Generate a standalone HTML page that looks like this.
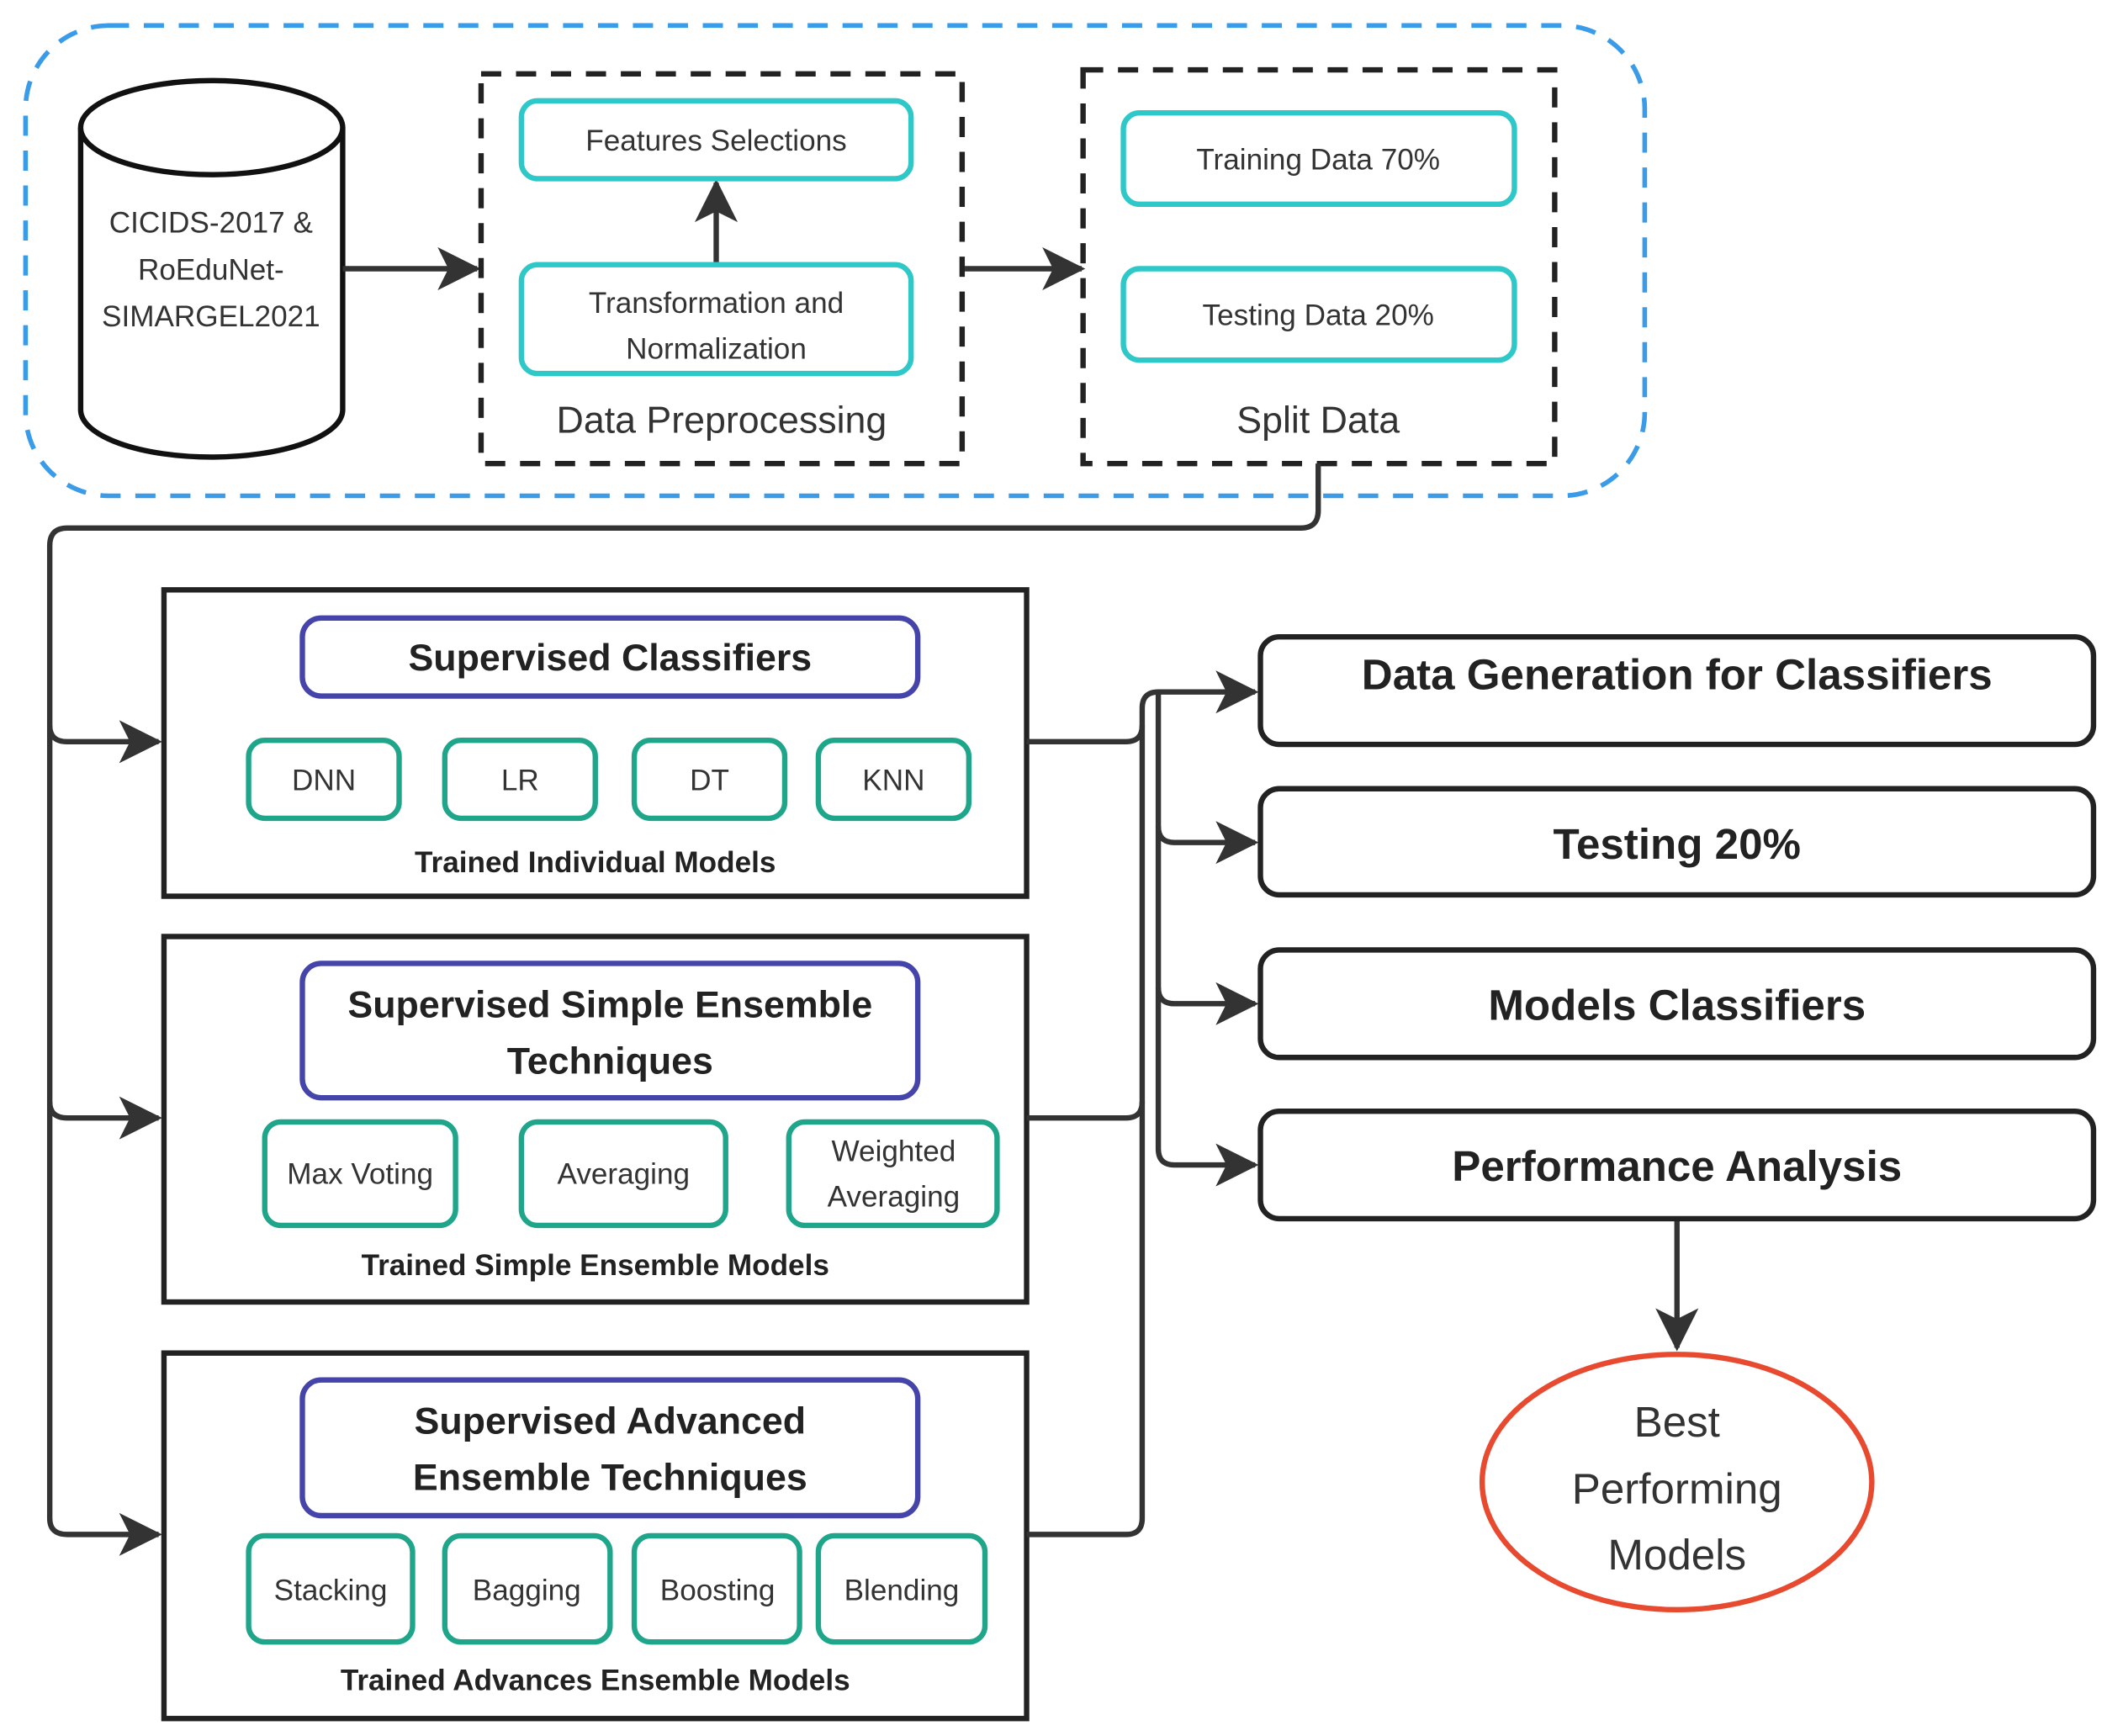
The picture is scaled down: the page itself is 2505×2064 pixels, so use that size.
<!DOCTYPE html>
<html><head><meta charset="utf-8"><style>html,body{margin:0;padding:0;background:#fff}svg{display:block}</style></head>
<body>
<svg width="2505" height="2064" viewBox="0 0 1568 1292" xmlns="http://www.w3.org/2000/svg" font-family="'Liberation Sans', 'DejaVu Sans', sans-serif">
<defs>
<marker id="a" viewBox="0 0 10 10" refX="9" refY="5" markerWidth="9" markerHeight="9" markerUnits="userSpaceOnUse" orient="auto">
</marker>
<marker id="ar" viewBox="0 0 12 12" refX="11" refY="6" markerWidth="32" markerHeight="32" markerUnits="userSpaceOnUse" orient="auto"><path d="M0,0 L12,6 L0,12 L3,6 Z" fill="#333"/></marker>
</defs>
<rect x="19" y="19" width="1205" height="350" rx="62" fill="none" stroke="#3a9be8" stroke-width="3.5" stroke-dasharray="15,11"/>
<!-- cylinder -->
<path d="M60,95 L60,305 A97,35 0 0 0 255,305 L255,95" fill="#fff" stroke="#111" stroke-width="4"/>
<ellipse cx="157.5" cy="95" rx="97.5" ry="35" fill="#fff" stroke="#111" stroke-width="4"/>
<g font-size="22" fill="#333" text-anchor="middle">
<text x="157" y="173">CICIDS-2017 &amp;</text><text x="157" y="208">RoEduNet-</text><text x="157" y="243">SIMARGEL2021</text>
</g>
<g stroke="#333" stroke-width="4" fill="none">
<line x1="255" y1="200" x2="355" y2="200" marker-end="url(#ar)"/>
<line x1="533" y1="197" x2="533" y2="136" marker-end="url(#ar)"/>
<line x1="718" y1="200" x2="805" y2="200" marker-end="url(#ar)"/>
</g>
<rect x="358" y="55" width="358" height="290" fill="none" stroke="#222" stroke-width="4" stroke-dasharray="15,11"/>
<rect x="806" y="52" width="351" height="293" fill="none" stroke="#222" stroke-width="4" stroke-dasharray="15,11"/>
<g fill="none" stroke="#2ec8c8" stroke-width="4">
<rect x="388" y="75" width="290" height="58" rx="12"/>
<rect x="388" y="197" width="290" height="81" rx="12"/>
<rect x="836" y="84" width="291" height="68" rx="12"/>
<rect x="836" y="200" width="291" height="68" rx="12"/>
</g>
<g font-size="22" fill="#333" text-anchor="middle">
<text x="533" y="112">Features Selections</text>
<text x="533" y="233">Transformation and</text><text x="533" y="267">Normalization</text>
<text x="981" y="126">Training Data 70%</text>
<text x="981" y="242">Testing Data 20%</text>
<text x="537" y="322" font-size="28">Data Preprocessing</text>
<text x="981" y="322" font-size="28">Split Data</text>
</g>
<!-- left connector -->
<g stroke="#333" stroke-width="4" fill="none">
<path d="M981,345 L981,380 Q981,393 968,393 L50,393 Q37,393 37,406 L37,1130 Q37,1142 50,1142 L118,1142" marker-end="url(#ar)"/>
<path d="M37,540 Q37,552 50,552 L118,552" marker-end="url(#ar)"/>
<path d="M37,820 Q37,832 50,832 L118,832" marker-end="url(#ar)"/>
</g>
<!-- boxes -->
<g fill="none" stroke="#222" stroke-width="4">
<rect x="122" y="439" width="642" height="228"/>
<rect x="122" y="697" width="642" height="272"/>
<rect x="122" y="1007" width="642" height="272"/>
</g>
<g fill="none" stroke="#4444aa" stroke-width="4">
<rect x="225" y="460" width="458" height="58" rx="14"/>
<rect x="225" y="717" width="458" height="100" rx="14"/>
<rect x="225" y="1027" width="458" height="101" rx="14"/>
</g>
<g fill="none" stroke="#1fa68a" stroke-width="4">
<rect x="185" y="551" width="112" height="58" rx="12"/>
<rect x="331" y="551" width="112" height="58" rx="12"/>
<rect x="472" y="551" width="112" height="58" rx="12"/>
<rect x="609" y="551" width="112" height="58" rx="12"/>
<rect x="197" y="835" width="142" height="77" rx="12"/>
<rect x="388" y="835" width="152" height="77" rx="12"/>
<rect x="587" y="835" width="155" height="77" rx="12"/>
<rect x="185" y="1143" width="122" height="79" rx="12"/>
<rect x="331" y="1143" width="123" height="79" rx="12"/>
<rect x="472" y="1143" width="123" height="79" rx="12"/>
<rect x="609" y="1143" width="124" height="79" rx="12"/>
</g>
<g font-size="28" font-weight="bold" fill="#222" text-anchor="middle">
<text x="454" y="499">Supervised Classifiers</text>
<text x="454" y="757">Supervised Simple Ensemble</text><text x="454" y="799">Techniques</text>
<text x="454" y="1067">Supervised Advanced</text><text x="454" y="1109">Ensemble Techniques</text>
</g>
<g font-size="22" font-weight="bold" fill="#222" text-anchor="middle">
<text x="443" y="649">Trained Individual Models</text>
<text x="443" y="949">Trained Simple Ensemble Models</text>
<text x="443" y="1258">Trained Advances Ensemble Models</text>
</g>
<g font-size="22" fill="#333" text-anchor="middle">
<text x="241" y="588">DNN</text><text x="387" y="588">LR</text><text x="528" y="588">DT</text><text x="665" y="588">KNN</text>
<text x="268" y="881">Max Voting</text><text x="464" y="881">Averaging</text>
<text x="665" y="864">Weighted</text><text x="665" y="898">Averaging</text>
<text x="246" y="1191">Stacking</text><text x="392" y="1191">Bagging</text><text x="534" y="1191">Boosting</text><text x="671" y="1191">Blending</text>
</g>
<!-- right connectors -->
<g stroke="#333" stroke-width="4" fill="none">
<path d="M764,552 L838,552 Q850,552 850,540 L850,527 Q850,515 862,515 L934,515" marker-end="url(#ar)"/>
<path d="M764,832 L838,832 Q850,832 850,820 L850,540"/>
<path d="M764,1142 L838,1142 Q850,1142 850,1130 L850,820"/>
<path d="M862,515 L862,855 Q862,867 874,867 L934,867" marker-end="url(#ar)"/>
<path d="M862,615 Q862,627 874,627 L934,627" marker-end="url(#ar)"/>
<path d="M862,735 Q862,747 874,747 L934,747" marker-end="url(#ar)"/>
<line x1="1248" y1="907" x2="1248" y2="1003" marker-end="url(#ar)"/>
</g>
<g fill="none" stroke="#222" stroke-width="4">
<rect x="938" y="474" width="620" height="80" rx="14"/>
<rect x="938" y="587" width="620" height="79" rx="14"/>
<rect x="938" y="707" width="620" height="80" rx="14"/>
<rect x="938" y="827" width="620" height="80" rx="14"/>
</g>
<g font-size="32" font-weight="bold" fill="#222" text-anchor="middle">
<text x="1248" y="513">Data Generation for Classifiers</text>
<text x="1248" y="639">Testing 20%</text>
<text x="1248" y="759">Models Classifiers</text>
<text x="1248" y="879">Performance Analysis</text>
</g>
<ellipse cx="1248" cy="1103" rx="145" ry="95" fill="none" stroke="#e84a30" stroke-width="4"/>
<g font-size="32" fill="#333" text-anchor="middle">
<text x="1248" y="1069">Best</text><text x="1248" y="1119">Performing</text><text x="1248" y="1168">Models</text>
</g>
</svg>
</body></html>
